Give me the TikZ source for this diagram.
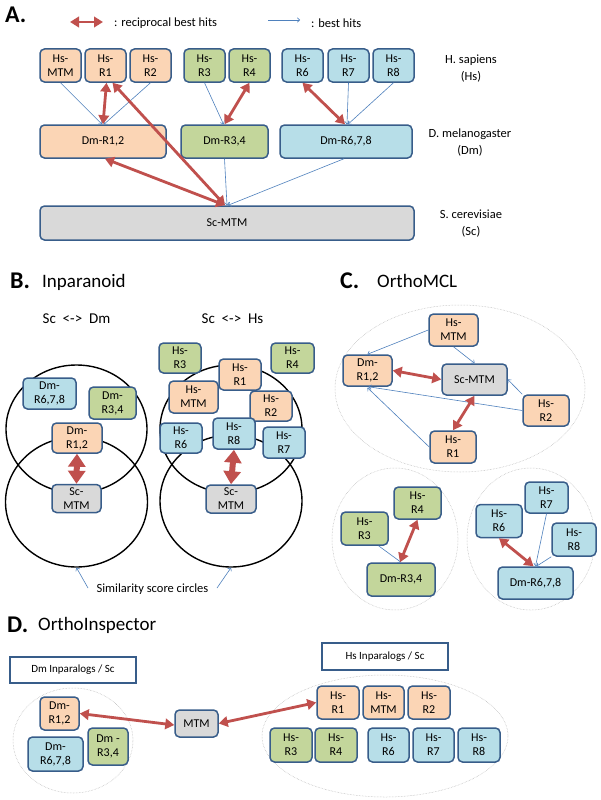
\documentclass[tikz,border=0pt]{standalone}
\usepackage{fontspec}
\setmainfont{Carlito}
\usetikzlibrary{arrows.meta,shapes.geometric,calc}
\definecolor{bdr}{HTML}{385D8A}
\definecolor{org}{HTML}{FBD5B5}
\definecolor{grn}{HTML}{C3D69B}
\definecolor{blu}{HTML}{B7DEE8}
\definecolor{gry}{HTML}{D9D9D9}
\definecolor{rbh}{HTML}{C0504D}
\definecolor{bh}{HTML}{4F81BD}
\begin{document}
\begin{tikzpicture}[x=1pt,y=-1pt,
 box/.style={draw=bdr, line width=1.5pt, rounded corners=4.5pt, align=center, inner sep=0pt, font=\fontsize{12}{14}\selectfont},
 O/.style={box, fill=org}, G/.style={box, fill=grn}, B/.style={box, fill=blu}, S/.style={box, fill=gry},
 sz/.style 2 args={minimum width=#1, minimum height=#2},
 rbhar/.style={draw=rbh, line width=2.8pt, {Triangle[length=9pt,width=10.5pt]}-{Triangle[length=9pt,width=10.5pt]}},
 bhar/.style={draw=bh, line width=0.6pt, -{To[length=3pt,width=5pt]}},
 fat/.style={draw=rbh, line width=6pt, {Triangle[length=13pt,width=17pt]}-{Triangle[length=13pt,width=17pt]}},
 ring/.style={draw, line width=1.4pt, ellipse, inner sep=0pt},
 grp/.style={draw=black!30, line width=0.5pt, densely dotted, ellipse, inner sep=0pt},
 hdr/.style={font=\fontsize{24}{24}\selectfont\bfseries, inner sep=0pt, anchor=base west},
 ttl/.style={font=\fontsize{19}{22}\selectfont, inner sep=0pt, anchor=base west},
 lbl/.style={font=\fontsize{12.5}{17}\selectfont, align=center, inner sep=0pt},
 cmp/.style={font=\fontsize{15}{17}\selectfont, inner sep=0pt},
 inpl/.style={draw=bdr, line width=1.5pt, fill=white, inner sep=0pt, font=\fontsize{11}{14}\selectfont},
]
\fill[white] (0,0) rectangle (600,800);
\useasboundingbox (0,0) rectangle (600,800);

% ---------------- A ----------------
\node[hdr] (hA) at (5,23) {A.};
\coordinate (lr1) at (70,22); \coordinate (lr2) at (103,22);
\draw[rbhar] (lr1) -- (lr2);
\node[lbl, anchor=west] (lt1) at (114,23) {: reciprocal best hits};
\coordinate (lb1) at (268,20); \coordinate (lb2) at (300,20);
\draw[bhar] (lb1) -- (lb2);
\node[lbl, anchor=west] (lt2) at (311,23) {: best hits};

\node[O, sz={41}{33}] (aMTM) at (60.5,65.5) {Hs-\\MTM};
\node[O, sz={41}{33}] (aR1) at (105.5,65.5) {Hs-\\R1};
\node[O, sz={41}{33}] (aR2) at (150.5,65.5) {Hs-\\R2};
\node[G, sz={41}{33}] (aR3) at (204.5,65.5) {Hs-\\R3};
\node[G, sz={41}{33}] (aR4) at (249.5,65.5) {Hs-\\R4};
\node[B, sz={41}{33}] (aR6) at (302.5,65.5) {Hs-\\R6};
\node[B, sz={41}{33}] (aR7) at (348.5,65.5) {Hs-\\R7};
\node[B, sz={41}{33}] (aR8) at (393.5,65.5) {Hs-\\R8};
\node[O, sz={126}{33}] (aD12) at (103,141.5) {Dm-R1,2};
\node[G, sz={87}{33}] (aD34) at (224.5,141.5) {Dm-R3,4};
\node[B, sz={132}{33}] (aD678) at (346,141.5) {Dm-R6,7,8};
\node[S, sz={374}{34}] (aSc) at (227,223) {Sc-MTM};

\node[lbl] (lHs) at (471,69) {H. sapiens\\(Hs)};
\node[lbl] (lDm) at (470,143) {D. melanogaster\\(Dm)};
\node[lbl] (lSc) at (471,224) {S. cerevisiae\\(Sc)};

\draw[bhar] (aMTM.south) -- ($(aD12.north)+(-1,0)$);
\draw[bhar] (aR2.south) -- ($(aD12.north)+(1,0)$);
\draw[bhar] (aR3.south) -- ($(aD34.north)+(-1,0)$);
\draw[bhar] (aR7.south) -- ($(aD678.north)+(1,0)$);
\draw[bhar] (aR8.south) -- ($(aD678.north)+(2,0)$);
\draw[bhar] (aD34.south) -- ($(aSc.north)+(0,0)$);
\draw[bhar] ($(aD678.south)+(-2,0)$) -- ($(aSc.north)+(1,0)$);
\draw[rbhar] ($(aR1.south)+(1,0)$) -- (aD12.north);
\draw[rbhar] ($(aR1.south)+(7,0)$) -- ($(aSc.north)+(-2,0)$);
\draw[rbhar] ($(aD12.south)+(2,0)$) -- ($(aSc.north)+(-2,0)$);
\draw[rbhar] (aR4.south) -- (aD34.north);
\draw[rbhar] (aR6.south) -- ($(aD678.north)+(-1,0)$);

% ---------------- B ----------------
\node[hdr] (hB) at (10,288) {B.};
\node[ttl] (tB) at (42,287) {Inparanoid};
\node[cmp] (sdm) at (76.5,319) {Sc\ \ <->\ \ Dm};
\node[cmp] (shs) at (232.5,319) {Sc\ \ <->\ \ Hs};

\node[ring, minimum width=141, minimum height=128] (bCLU) at (76.5,429) {};
\node[ring, minimum width=142, minimum height=130] (bCLL) at (76.5,502) {};
\node[ring, minimum width=142, minimum height=128] (bCRU) at (231,429) {};
\node[ring, minimum width=142, minimum height=132] (bCRL) at (231,501) {};

\node[B, sz={53}{31}] (bD678) at (49.5,393.5) {Dm-\\R6,7,8};
\node[G, sz={47}{32}] (bD34) at (112.5,403) {Dm-\\R3,4};
\node[O, sz={50}{30}] (bD12) at (77,438) {Dm-\\R1,2};
\node[S, sz={49}{28}] (bSc1) at (76.5,498.5) {Sc-\\MTM};

\node[G, sz={42}{30}] (bR3) at (180,358) {Hs-\\R3};
\node[G, sz={43}{30}] (bR4) at (292.5,358) {Hs-\\R4};
\node[O, sz={42}{31}] (bR1) at (240,374.5) {Hs-\\R1};
\node[O, sz={49}{32}] (bMTM) at (193.5,397) {Hs-\\MTM};
\node[O, sz={42}{30}] (bR2) at (271,406) {Hs-\\R2};
\node[B, sz={42}{30}] (bR6) at (181,438) {Hs-\\R6};
\node[B, sz={42}{31}] (bR8) at (234,433.5) {Hs-\\R8};
\node[B, sz={42}{31}] (bR7) at (284,442.5) {Hs-\\R7};
\node[S, sz={50}{28}] (bSc2) at (231,499) {Sc-\\MTM};

\draw[fat] (bD12.south) -- (bSc1.north);
\draw[fat] (bR8.south) -- (bSc2.north);

\node[font=\fontsize{12.5}{14}\selectfont, inner sep=0pt] (sim) at (152.5,589) {Similarity score circles};
\coordinate (simA) at (88,588); \coordinate (simB) at (217,588);
\draw[bhar] (simA) -- (bCLL.south);
\draw[bhar] (simB) -- (bCRL.south);

% ---------------- C ----------------
\node[hdr] (hC) at (340,288) {C.};
\node[ttl] (tC) at (377,287) {OrthoMCL};

\node[grp, minimum width=250, minimum height=167] (cE1) at (460,388.5) {};
\node[grp, minimum width=126, minimum height=142] (cE2) at (395,539) {};
\node[grp, minimum width=128, minimum height=142] (cE3) at (531,539) {};

\node[O, sz={49}{32}] (cMTM) at (453.5,330) {Hs-\\MTM};
\node[O, sz={49}{31}] (cD12) at (367.5,370.5) {Dm-\\R1,2};
\node[S, sz={65}{31}] (cSc) at (474.5,379.5) {Sc-MTM};
\node[O, sz={46}{31}] (cR2) at (546,410.5) {Hs-\\R2};
\node[O, sz={46}{32}] (cR1) at (453,447) {Hs-\\R1};

\draw[bhar] (cMTM.west) -- (cD12.north);
\draw[bhar] (cMTM.south) -- (cSc.north);
\draw[bhar] (cR2.north west) -- (cSc.east);
\draw[bhar] (cR2.west) -- ($(cD12.south)+(1,0)$);
\draw[bhar] (cR1.west) -- ($(cD12.south)+(0,1)$);
\draw[rbhar] (cD12.east) -- (cSc.west);
\draw[rbhar] (cSc.south) -- (cR1.north);

\node[G, sz={47}{32}] (cR4) at (417.5,503) {Hs-\\R4};
\node[G, sz={47}{33}] (cR3) at (364.5,528.5) {Hs-\\R3};
\node[G, sz={68}{33}] (cD34) at (401,579.5) {Dm-R3,4};
\draw[bhar] ($(cR3.south)+(14,0)$) -- (cD34.north);
\draw[rbhar] (cR4.south) -- ($(cD34.north)+(-1,0)$);

\node[B, sz={46}{33}] (cR6) at (499,521) {Hs-\\R6};
\node[B, sz={43}{31}] (cR7) at (546.5,497.5) {Hs-\\R7};
\node[B, sz={44}{33}] (cR8) at (574,539.5) {Hs-\\R8};
\node[B, sz={75}{32}] (cD678) at (535.5,583) {Dm-R6,7,8};
\draw[bhar] (cR7.south) -- ($(cD678.north)+(0,0)$);
\draw[bhar] (cR8.south west) -- ($(cD678.north)+(1,0)$);
\draw[rbhar] (cR6.south) -- ($(cD678.north)+(-2,0)$);

% ---------------- D ----------------
\node[hdr] (hD) at (7,632) {D.};
\node[ttl] (tD) at (38,630) {OrthoInspector};

\node[inpl, sz={126}{26}] (dInL) at (73,670) {Dm Inparalogs / Sc};
\node[inpl, sz={126}{27}] (dInR) at (385,656.5) {Hs Inparalogs / Sc};

\node[grp, minimum width=120, minimum height=105] (dEL) at (73,740.5) {};
\node[grp, minimum width=246, minimum height=122] (dER) at (385,736) {};

\node[O, sz={39}{33}] (dD12) at (59.5,713.5) {Dm-\\R1,2};
\node[B, sz={55}{34}] (dD678) at (55.5,754) {Dm-\\R6,7,8};
\node[G, sz={40}{37}] (dD34) at (108,746.5) {Dm -\\R3,4};
\node[S, sz={43}{27}] (dM) at (196.5,723.5) {MTM};

\node[O, sz={42}{33}] (dR1) at (338,702.5) {Hs-\\R1};
\node[O, sz={41}{33}] (dMTM) at (383.5,702.5) {Hs-\\MTM};
\node[O, sz={42}{33}] (dR2) at (429,702.5) {Hs-\\R2};
\node[G, sz={42}{34}] (dR3) at (291,745) {Hs-\\R3};
\node[G, sz={42}{34}] (dR4) at (336,745) {Hs-\\R4};
\node[B, sz={41}{34}] (dR6) at (388.5,745) {Hs-\\R6};
\node[B, sz={41}{34}] (dR7) at (433.5,745) {Hs-\\R7};
\node[B, sz={42}{34}] (dR8) at (479,745) {Hs-\\R8};

\draw[rbhar] (dD12.east) -- ($(dM.west)+(0,1.5)$);
\draw[rbhar] (dM.east) -- (dR1.west);
\end{tikzpicture}
\end{document}
